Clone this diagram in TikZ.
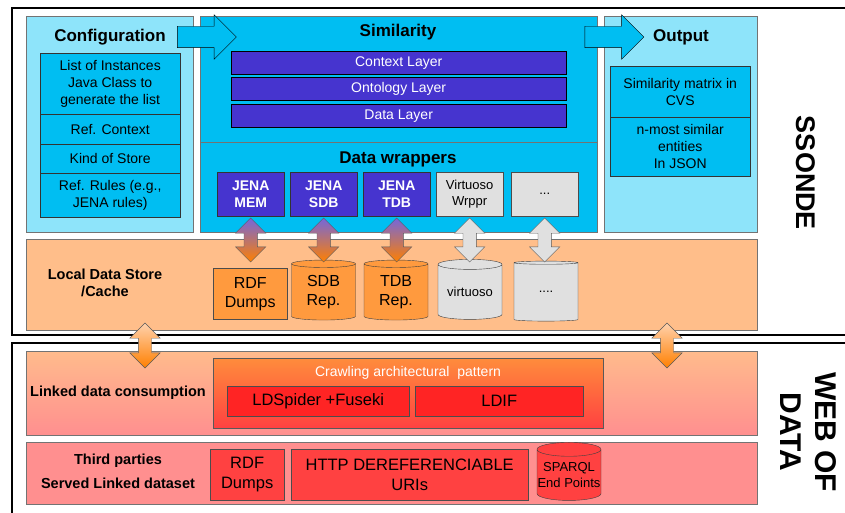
\documentclass[tikz,border=0pt]{standalone}
\usepackage{fontspec}
\setmainfont{Liberation Sans}
\usepackage{xcolor}
\usepackage{tikz}
\usetikzlibrary{arrows, arrows.meta}
\usetikzlibrary{positioning}
\usetikzlibrary{calc}
\usetikzlibrary{shapes.geometric, shapes.arrows}

\definecolor{cfgcyan}{HTML}{8EE4FA}
\definecolor{simcyan}{HTML}{00BEF2}
\definecolor{layerblue}{HTML}{4634CF}
\definecolor{wrapgray}{HTML}{E0E0E0}
\definecolor{storepeach}{HTML}{FFBE8A}
\definecolor{storeorange}{HTML}{FF9A3E}
\definecolor{linkpeach}{HTML}{FFBB8C}
\definecolor{webpink}{HTML}{FF8F8F}
\definecolor{webred}{HTML}{FF4141}
\definecolor{crawlred}{HTML}{FF2424}
\definecolor{crawltop}{HTML}{FF8C3C}
\newcommand{\fsz}[2]{\fontsize{#1}{#2}\selectfont}

\begin{document}
\begin{tikzpicture}[x=1pt, y=-1pt,
  every node/.style={align=center, inner sep=0pt, font=\fsz{14}{17}},
  panel/.style={draw=black!55, anchor=north west},
  cell/.style={draw=black!80, fill=simcyan, anchor=north west},
  title/.style={font=\bfseries\fsz{17}{20}},
  sidetext/.style={font=\bfseries\fsz{14.5}{17}},
  layerbox/.style={draw=black, fill=layerblue, text=white, anchor=north west},
  jenabox/.style={draw=black!80, fill=layerblue, text=white, font=\bfseries\fsz{14}{17}, anchor=north west},
  plainbox/.style={draw=black!70, fill=wrapgray, font=\fsz{13}{16}, anchor=north west},
  orangebox/.style={draw=black!70, fill=storeorange, font=\fsz{16}{19}, anchor=north west},
  redbox/.style={draw=black!70, fill=webred, font=\fsz{16.5}{20}, anchor=north west},
  drum/.style={shape=cylinder, shape border rotate=90, aspect=0.22, draw=black!75},
  bigarrow/.style={shape=single arrow, draw=black, fill=simcyan, inner sep=10.5pt, minimum height=59, minimum width=44, single arrow head extend=11.5},
  linkarrow/.style={shape=double arrow, shape border rotate=90, draw=black!65, inner sep=6.5pt, minimum width=30, double arrow head extend=8.5},
  frame/.style={line width=1.8pt, black}]
	\useasboundingbox (0,0) rectangle (845,513);
	\clip (0,0) rectangle (845,513);
	% outer frames
	\draw[frame] (850,8) -- (12,8) -- (12,335) -- (850,335);
	\draw[frame] (850,343) -- (12,343) -- (12,520);
	
	% SSONDE part
	\node[panel, fill=cfgcyan, minimum width=167, minimum height=216] (cfg) at (26,16) {};
	\node[panel, fill=simcyan, minimum width=397, minimum height=126] (sim) at (200,16) {};
	\node[panel, fill=simcyan, minimum width=397, minimum height=90] (wrap) at (200,142) {};
	\node[panel, fill=cfgcyan, minimum width=153, minimum height=216] (out) at (604,16) {};
	\node[panel, fill=storepeach, minimum width=731, minimum height=91] (store) at (26,239) {};
	
	\node[title] (cfgtitle) at (110,37) {Configuration};
	\node[title] (simtitle) at (398,32) {Similarity};
	\node[title] (wraptitle) at (398,159) {Data wrappers};
	\node[title] (outtitle) at (681,37) {Output};
	\node[sidetext] (storetitle) at (105,283) {Local Data Store\\/Cache};
	
	\foreach \y/\h/\txt [count=\i] in {53/61/{List of Instances\\Java Class to\\generate the list}, 114/30/{Ref. Context}, 144/29/{Kind of Store}, 173/44/{Ref. Rules (e.g.,\\JENA rules)}}
	{
		\node[cell, minimum width=140, minimum height=\h] (cfg\i) at (40,\y) {\txt};
	}
	\foreach \y/\h/\txt [count=\i] in {66/51/{Similarity matrix in\\CVS}, 117/59/{n-most similar\\entities\\In JSON}}
	{
		\node[cell, minimum width=140, minimum height=\h] (out\i) at (610,\y) {\txt};
	}
	\foreach \y/\txt [count=\i] in {51/{Context Layer}, 77.5/{Ontology Layer}, 104/{Data Layer}}
	{
		\node[layerbox, minimum width=335, minimum height=23] (layer\i) at (231,\y) {\txt};
	}
	\foreach \x/\txt/\kind [count=\i] in {217/{JENA\\MEM}/jenabox, 290/{JENA\\SDB}/jenabox, 363/{JENA\\TDB}/jenabox, 436/{Virtuoso\\Wrppr}/plainbox, 511/{...}/plainbox}
	{
		\node[\kind, minimum width=67, minimum height=44] (wrap\i) at (\x,172) {\txt};
	}
	
	% local stores
	\node[orangebox, minimum width=74, minimum height=51] (store1) at (213,268) {RDF\\Dumps};
	\foreach \x/\txt/\col/\fs [count=\i from 2] in {323.5/{SDB\\Rep.}/storeorange/16, 396/{TDB\\Rep.}/storeorange/16, 470/{virtuoso}/wrapgray/13, 546/{....}/wrapgray/13}
	{
		\node[drum, fill=\col, minimum width=64, minimum height=60, font=\fsz{\fs}{19}] (store\i) at (\x,292) {\txt};
	}
	
	\foreach \i/\top/\bottom in {1/layerblue!75/orange, 2/layerblue!75/orange, 3/layerblue!75/orange, 4/wrapgray/wrapgray, 5/wrapgray/wrapgray}
	{
		\node[linkarrow, minimum height=44, top color=\top, bottom color=\bottom] (link\i) at (wrap\i.south |- 0,240) {};
	}
	\node[bigarrow] (cfgarrow) at (201.5,37) {};
	\node[bigarrow] (outarrow) at (609,37) {};
	
	% web of data part
	\node[panel, top color=linkpeach, bottom color=webpink, middle color=webpink!50!linkpeach, minimum width=731, minimum height=84] (linked) at (26,351) {};
	\node[panel, fill=webpink, minimum width=731, minimum height=62] (third) at (26,442) {};
	\node[sidetext] (linkedtitle) at (118,393) {Linked data consumption};
	\node[sidetext, font=\bfseries\fsz{14.5}{24}] (thirdtitle) at (118,471) {Third parties\\Served Linked dataset};
	
	\node[panel, draw=black!65, top color=crawltop, bottom color=webred, minimum width=390, minimum height=70] (crawl) at (213,358) {};
	\node[text=white] (crawltitle) at (408,373) {Crawling architectural~ pattern};
	\node[redbox, fill=crawlred, minimum width=182, minimum height=30] (spider) at (227,386) {LDSpider +Fuseki};
	\node[redbox, fill=crawlred, minimum width=168, minimum height=30] (ldif) at (415,386) {LDIF};
	
	\node[redbox, minimum width=74, minimum height=51] (dumps) at (210,449) {RDF\\Dumps};
	\node[redbox, minimum width=237, minimum height=51] (uris) at (291,449) {HTTP DEREFERENCIABLE\\URIs};
	\node[drum, fill=webred, minimum width=64, minimum height=58, font=\fsz{13}{16}] (sparql) at (569,475) {SPARQL\\End Points};
	
	\foreach \x [count=\i] in {145, 667}
	{
		\node[linkarrow, minimum height=45, top color=storepeach!70!white, bottom color=orange] (bridge\i) at (\x,345.5) {};
	}
	
	% side labels
	\node[rotate=-90, font=\bfseries\fsz{27}{30}] (ssonde) at (806,173) {SSONDE};
	\node[rotate=-90, font=\bfseries\fsz{30}{35}] (web) at (808,432) {WEB OF\\DATA};
\end{tikzpicture}
\end{document}
